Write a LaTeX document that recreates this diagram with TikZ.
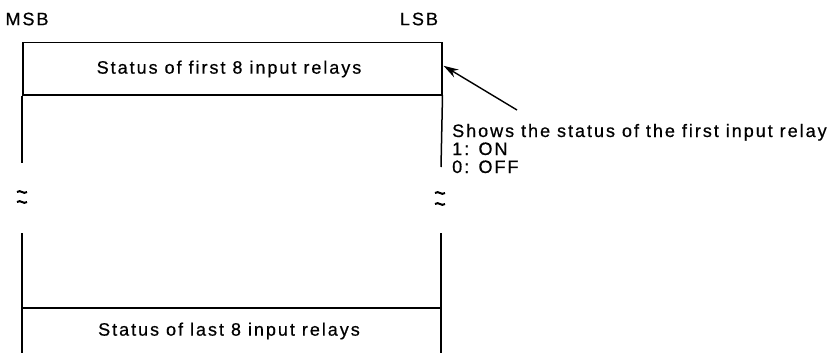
\documentclass[tikz,border=0pt]{standalone}
\usepackage{fontspec}
\setmainfont{Liberation Sans}
\newfontfamily\lbl[LetterSpace=11,FakeBold=0.6]{Liberation Sans}
\usetikzlibrary{arrows.meta}
\begin{document}
\begin{tikzpicture}[x=1pt,y=-1pt,
  txt/.style={font=\lbl\fontsize{18}{21}\selectfont, inner sep=0pt},
  frame/.style={line width=1.5pt},
  brk/.style={line width=2pt},
  pointer/.style={line width=1.4pt,-{Stealth[length=15pt,width=9pt]}}]
\useasboundingbox (0,0) rectangle (838,353);
% rows
\node[frame, draw, minimum width=419pt, minimum height=52pt, inner sep=0pt, anchor=north west] (first) at (22,42) {};
\node[txt] (firsttxt) at (229,69) {Status of first 8 input relays};
\node[txt] (lasttxt) at (229,331) {Status of last 8 input relays};
\coordinate (ld) at (22,308);
\coordinate (rd) at (441,308);
\draw[frame] (ld) -- (rd);
% side lines
\coordinate (l1) at (22,163);
\coordinate (l2) at (22,233);
\coordinate (l3) at (22,353);
\coordinate (r1) at (441,167);
\coordinate (r2) at (441,233);
\coordinate (r3) at (441,353);
\draw[frame] (first.south west) -- (l1);
\draw[frame] (l2) -- (l3);
\draw[frame] (first.south east) -- (r1);
\draw[frame] (r2) -- (r3);
% break marks
\foreach \x/\y in {22/192, 22/202, 440/193, 440/204}{
  \draw[brk] (\x-5,\y) .. controls (\x-1,\y-3) and (\x+1,\y+3) .. (\x+5,\y);
}
% headers
\node[txt] (msb) at (27,19) {MSB};
\node[txt] (lsb) at (419,19) {LSB};
% note
\node[txt, anchor=base west] (note1) at (452,137) {Shows the status of the first input relay};
\node[txt, anchor=base west] (note2) at (452,155) {1: ON};
\node[txt, anchor=base west] (note3) at (452,173) {0: OFF};
\coordinate (tail) at (517,110);
\draw[pointer] (tail) -- ([xshift=1pt,yshift=3pt]first.east);
\end{tikzpicture}
\end{document}
